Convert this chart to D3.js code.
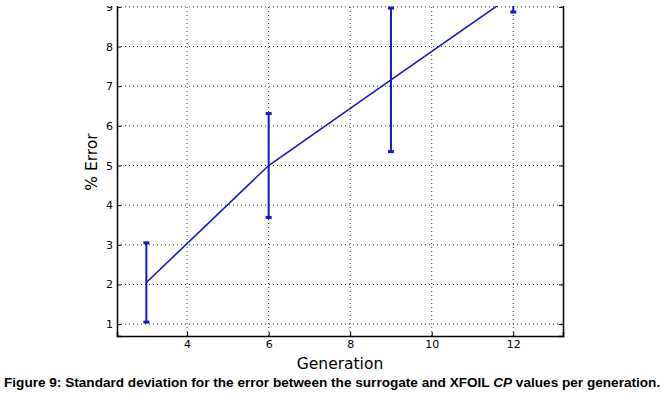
<!DOCTYPE html>
<html>
<head>
<meta charset="utf-8">
<title>Figure 9</title>
<script src="https://d3js.org/d3.v7.min.js"></script>
<style>
  html, body { margin: 0; padding: 0; background: #fff; }
  svg { display: block; }
  .tick text { font-family: "DejaVu Sans", sans-serif; font-size: 11px; fill: #000; }
</style>
</head>
<body>
<div id="chart"></div>
<script>
// data
var generations = [3, 6, 9, 12];
var meanError = [2.05, 5.0, 7.16, 9.31];
var stdError = [1.0, 1.31, 1.81, 0.44];
var xTicks = [4, 6, 8, 10, 12];
var yTicks = [1, 2, 3, 4, 5, 6, 7, 8, 9];

var width = 672, height = 399;
var plotL = 117, plotR = 563, plotT = -5, plotB = 336;

var svg = d3.select("#chart").append("svg")
    .attr("width", width)
    .attr("height", height);

var x = d3.scaleLinear().domain([2.28, 13.22]).range([plotL, plotR]);
var y = d3.scaleLinear().domain([0.7, 9.3]).range([plotB, plotT]);

// the figure is cropped a few px from the top
svg.append("clipPath").attr("id", "crop")
  .append("rect").attr("x", 0).attr("y", 6).attr("width", width).attr("height", height);

var g = svg.append("g").attr("clip-path", "url(#crop)");

// grid
g.selectAll(".vgrid").data(xTicks).enter().append("line")
    .attr("x1", d => x(d)).attr("x2", d => x(d))
    .attr("y1", plotT).attr("y2", plotB)
    .attr("stroke", "#333").attr("stroke-width", 1).attr("stroke-dasharray", "1,3");
g.selectAll(".hgrid").data(yTicks).enter().append("line")
    .attr("x1", plotL).attr("x2", plotR)
    .attr("y1", d => y(d)).attr("y2", d => y(d))
    .attr("stroke", "#333").attr("stroke-width", 1).attr("stroke-dasharray", "1,3");

// axes, ticks pointing inward
var xAxis = g.append("g").attr("transform", "translate(0," + plotB + ")")
    .call(d3.axisBottom(x).tickValues(xTicks).tickSize(-4).tickPadding(4).tickFormat(d3.format("d")));
var xTop = g.append("g").attr("transform", "translate(0," + plotT + ")")
    .call(d3.axisTop(x).tickValues(xTicks).tickSize(-4).tickFormat(""));
var yAxis = g.append("g").attr("transform", "translate(" + plotL + ",0)")
    .call(d3.axisLeft(y).tickValues(yTicks).tickSize(-4).tickPadding(4).tickFormat(d3.format("d")));
var yRight = g.append("g").attr("transform", "translate(" + plotR + ",0)")
    .call(d3.axisRight(y).tickValues(yTicks).tickSize(-4).tickFormat(""));
[xAxis, xTop, yAxis, yRight].forEach(function(a) {
  a.select(".domain").attr("stroke", "#000").attr("stroke-width", 1.5);
  a.selectAll(".tick line").attr("stroke", "#000");
});

var blue = "#1818c8";
var pts = generations.map((d, i) => ({ gen: d, mean: meanError[i], sd: stdError[i] }));

// mean line
g.append("path").datum(pts)
    .attr("fill", "none").attr("stroke", blue).attr("stroke-width", 1.6)
    .attr("d", d3.line().x(d => x(d.gen)).y(d => y(d.mean)));

// error bars
var eb = g.selectAll(".err").data(pts).enter().append("g");
eb.append("line")
    .attr("x1", d => x(d.gen)).attr("x2", d => x(d.gen))
    .attr("y1", d => y(d.mean - d.sd)).attr("y2", d => y(d.mean + d.sd))
    .attr("stroke", blue).attr("stroke-width", 2);
eb.selectAll(".cap").data(d => [[d.gen, d.mean - d.sd], [d.gen, d.mean + d.sd]]).enter().append("line")
    .attr("x1", d => x(d[0]) - 3).attr("x2", d => x(d[0]) + 3)
    .attr("y1", d => y(d[1])).attr("y2", d => y(d[1]))
    .attr("stroke", blue).attr("stroke-width", 3);

// axis labels
svg.append("text")
    .attr("x", (plotL + plotR) / 2).attr("y", 369)
    .attr("text-anchor", "middle")
    .style("font-family", "DejaVu Sans, sans-serif").style("font-size", "15.5px")
    .text("Generation");
svg.append("text")
    .attr("transform", "translate(97," + 162 + ") rotate(-90)")
    .attr("text-anchor", "middle")
    .style("font-family", "DejaVu Sans, sans-serif").style("font-size", "15.5px")
    .text("% Error");

// caption
var cap = svg.append("text")
    .attr("x", 4).attr("y", 387)
    .style("font-family", "Liberation Sans, Arial, sans-serif")
    .style("font-size", "13.6px").style("font-weight", "bold");
cap.append("tspan").text("Figure 9: Standard deviation for the error between the surrogate and XFOIL ");
cap.append("tspan").style("font-style", "italic").text("CP");
cap.append("tspan").text(" values per generation.");
</script>
</body>
</html>
